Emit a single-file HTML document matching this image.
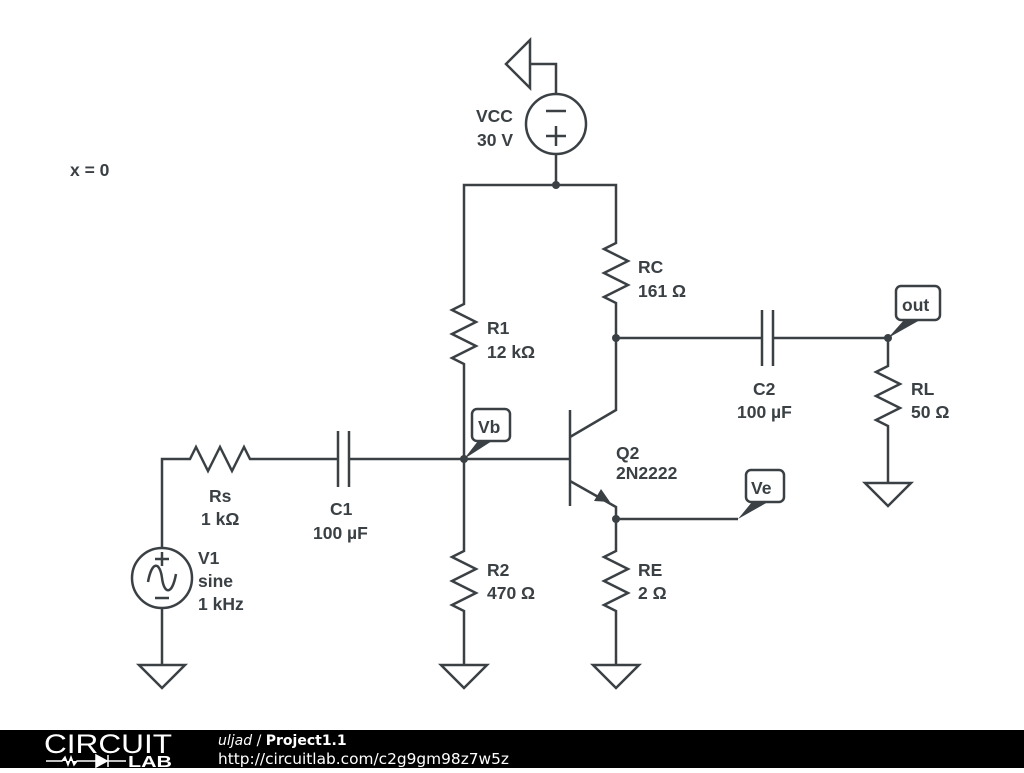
<!DOCTYPE html>
<html><head><style>
body{margin:0;width:1024px;height:768px;background:#fff;overflow:hidden;font-family:"Liberation Sans","DejaVu Sans",sans-serif}
svg text{font-family:"Liberation Sans","DejaVu Sans",sans-serif;font-weight:bold;font-size:17.5px;fill:#3a4044}
</style></head><body>
<svg width="1024" height="768" viewBox="0 0 1024 768" xmlns="http://www.w3.org/2000/svg">
<g fill="none" stroke="#3a4044" stroke-width="2.5" stroke-linejoin="miter">
<polygon points="506,64 530,40 530,88"/>
<polyline points="530,64 556,64 556,94"/>
<circle cx="556" cy="124" r="30"/>
<line x1="546" y1="111" x2="566" y2="111"/>
<line x1="546" y1="136" x2="566" y2="136"/><line x1="556" y1="126" x2="556" y2="146"/>
<line x1="556" y1="154" x2="556" y2="185"/>
<polyline points="464,298 464,185 616,185 616,237"/>
<polyline points="464,298 464,304 452,310 476,322 452,334 476,346 452,358 464,364 464,370"/>
<line x1="464" y1="370" x2="464" y2="545"/>
<polyline points="464,545 464,551 452,557 476,569 452,581 476,593 452,605 464,611 464,665"/>
<polygon points="441,665 487,665 464,688"/>
<polyline points="616,237 616,243 604,249 628,261 604,273 628,285 604,297 616,303 616,410 570,437"/>
<line x1="570" y1="410" x2="570" y2="506"/>
<line x1="464" y1="459" x2="570" y2="459"/>
<polyline points="570,481 616,507 616,545"/>
<polyline points="616,545 616,551 604,557 628,569 604,581 628,593 604,605 616,611 616,665"/>
<polygon points="593,665 639,665 616,688"/>
<polyline points="616,519 738,519"/>
<line x1="616" y1="338" x2="762" y2="338"/>
<line x1="762" y1="310" x2="762" y2="366"/><line x1="773" y1="310" x2="773" y2="366"/>
<line x1="773" y1="338" x2="888" y2="338"/>
<polyline points="888,338 888,366 876,372 900,384 876,396 900,408 876,420 888,426 888,483"/>
<polygon points="865,483 911,483 888,506"/>
<polyline points="162,548 162,459 190,459 196,447 208,471 220,447 232,471 244,447 250,459 338,459"/>
<line x1="338" y1="431" x2="338" y2="487"/><line x1="349" y1="431" x2="349" y2="487"/>
<line x1="349" y1="459" x2="464" y2="459"/>
<circle cx="162" cy="578" r="30"/>
<path d="M148,582 C152,560 160,562 162,578 C164,594 172,596 176,574"/>
<line x1="155" y1="559" x2="169" y2="559"/><line x1="162" y1="552" x2="162" y2="566"/>
<line x1="155" y1="598" x2="169" y2="598"/>
<line x1="162" y1="608" x2="162" y2="665"/>
<polygon points="139,665 185,665 162,688"/>
<rect x="472" y="409" width="38" height="32" rx="5"/>
<rect x="746" y="470" width="38" height="32" rx="5"/>
<rect x="896" y="286" width="44" height="34" rx="5"/>
</g>
<g fill="#3a4044">
<polygon points="610,502 594,501 601,489"/>
<circle cx="556" cy="185" r="4"/><circle cx="464" cy="459" r="4"/>
<circle cx="616" cy="338" r="4"/><circle cx="616" cy="519" r="4"/><circle cx="888" cy="338" r="4"/>
<polygon points="464,459 478,441 492,441"/>
<polygon points="738,519 752,502 768,502"/>
<polygon points="888,338 904,320 920,320"/>
</g>
<text x="476" y="122">VCC</text><text x="477" y="146">30 V</text>
<text x="70" y="176">x = 0</text>
<text x="638" y="273">RC</text><text x="638" y="297">161 Ω</text>
<text x="487" y="334">R1</text><text x="487" y="358">12 kΩ</text>
<text x="753" y="395">C2</text><text x="737" y="418">100 µF</text>
<text x="911" y="395">RL</text><text x="911" y="418">50 Ω</text>
<text x="478" y="433">Vb</text><text x="751" y="494">Ve</text><text x="902" y="311">out</text>
<text x="616" y="459">Q2</text><text x="616" y="479">2N2222</text>
<text x="209" y="502">Rs</text><text x="201" y="525">1 kΩ</text>
<text x="330" y="515">C1</text><text x="313" y="539">100 µF</text>
<text x="198" y="564">V1</text><text x="198" y="587">sine</text><text x="198" y="610">1 kHz</text>
<text x="487" y="576">R2</text><text x="487" y="599">470 Ω</text>
<text x="638" y="576">RE</text><text x="638" y="599">2 Ω</text>
<rect x="0" y="730" width="1024" height="38" fill="#000"/>
<text x="44" y="753" textLength="128" lengthAdjust="spacingAndGlyphs" style="font-weight:normal;font-size:27px;fill:#fff">CIRCUIT</text>
<text x="128" y="767" textLength="44" lengthAdjust="spacingAndGlyphs" style="font-weight:bold;font-size:16px;fill:#fff">LAB</text>
<path d="M46,761 H62 l3,-4 3,8 3,-8 3,8 3,-4 H96 M96,755 v12 l11,-6z M108,755 v12 M108,761 H126" stroke="#fff" stroke-width="1.5" fill="#fff"/>
<text x="218" y="745" style="font-weight:normal;font-family:'DejaVu Sans',sans-serif;font-size:14px;fill:#fff"><tspan font-style="italic">uljad</tspan> / <tspan font-weight="bold">Project1.1</tspan></text>
<text x="218" y="764" textLength="291" lengthAdjust="spacingAndGlyphs" style="font-weight:normal;font-family:'DejaVu Sans',sans-serif;font-size:15px;fill:#fff">http://circuitlab.com/c2g9gm98z7w5z</text>
</svg>
</body></html>
